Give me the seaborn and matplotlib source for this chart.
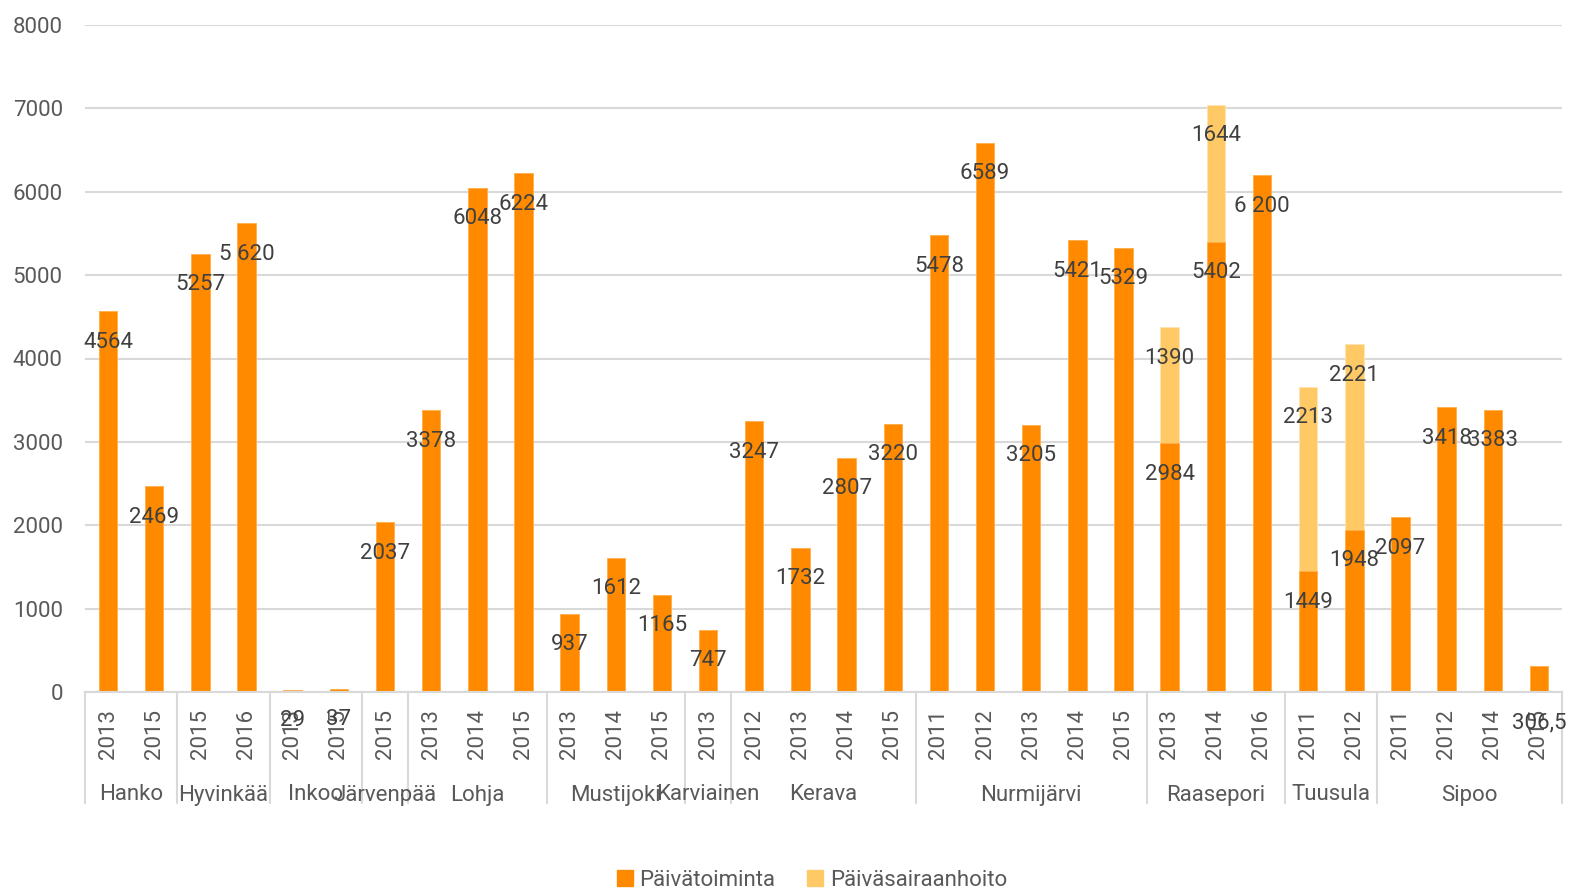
import matplotlib
matplotlib.use("Agg")
import matplotlib.pyplot as plt
import matplotlib.transforms as mtransforms
from matplotlib.patches import Patch
import seaborn as sns
import pandas as pd
import numpy as np

# ---- data ----
groups = ["Hanko", "Hyvinkää", "Inkoo", "Järvenpää", "Lohja", "Mustijoki",
          "Karviainen", "Kerava", "Nurmijärvi", "Raasepori", "Tuusula", "Sipoo"]
group_sizes = [2, 2, 2, 1, 3, 3, 1, 4, 5, 3, 2, 4]
years = ["2013", "2015", "2015", "2016", "2013", "2015", "2015",
         "2013", "2014", "2015", "2013", "2014", "2015", "2013",
         "2012", "2013", "2014", "2015",
         "2011", "2012", "2013", "2014", "2015",
         "2013", "2014", "2016", "2011", "2012",
         "2011", "2012", "2014", "2015"]
paivatoiminta = [4564, 2469, 5257, 5620, 29, 37, 2037,
                 3378, 6048, 6224, 937, 1612, 1165, 747,
                 3247, 1732, 2807, 3220,
                 5478, 6589, 3205, 5421, 5329,
                 2984, 5402, 6200, 1449, 1948,
                 2097, 3418, 3383, 306.5]
paivasairaanhoito = [0, 0, 0, 0, 0, 0, 0,
                     0, 0, 0, 0, 0, 0, 0,
                     0, 0, 0, 0,
                     0, 0, 0, 0, 0,
                     1390, 1644, 0, 2213, 2221,
                     0, 0, 0, 0]
labels_main = ["4564", "2469", "5257", "5 620", "29", "37", "2037",
               "3378", "6048", "6224", "937", "1612", "1165", "747",
               "3247", "1732", "2807", "3220",
               "5478", "6589", "3205", "5421", "5329",
               "2984", "5402", "6 200", "1449", "1948",
               "2097", "3418", "3383", "306,5"]

ORANGE = "#FF8A00"
LIGHT = "#FFCA66"
TXT = "#404040"
TICK = "#595959"
GRID = "#D9D9D9"

sns.set_theme(style="white")
fam = ["Roboto", "DejaVu Sans"]
plt.rcParams["font.family"] = fam
FS = 16

keys = [f"{i:02d}" for i in range(len(years))]
df = pd.DataFrame({"key": keys, "main": paivatoiminta,
                   "extra": paivasairaanhoito})
df["total"] = df["main"] + df["extra"]

fig = plt.figure(figsize=(15.76, 8.92), dpi=100)
ax = fig.add_axes([85/1576, 1-692/892, (1562-85)/1576, (692-25)/892])

sns.barplot(data=df, x="key", y="total", color=LIGHT, width=0.4,
            saturation=1, ax=ax, edgecolor="#FFE3B0", linewidth=0.6)
sns.barplot(data=df, x="key", y="main", color=ORANGE, width=0.4,
            saturation=1, ax=ax, edgecolor="#FFB050", linewidth=0.6)

n = len(years)
ax.set_xlim(-0.5, n - 0.5)
ax.set_ylim(0, 8000)
ax.set_yticks(np.arange(0, 8001, 1000))
ax.set_yticklabels([str(v) for v in range(0, 8001, 1000)],
                   fontsize=FS, color=TICK)
ax.yaxis.grid(True, color=GRID, linewidth=1.5)
ax.set_axisbelow(True)
ax.tick_params(axis="y", length=0, pad=16)
ax.tick_params(axis="x", length=0, pad=12)
ax.set_xticks(range(n))
ax.set_xticklabels(years, rotation=90, fontsize=FS, color=TICK)
ax.set_xlabel("")
ax.set_ylabel("")
for s in ["left", "right", "top"]:
    ax.spines[s].set_visible(False)
ax.spines["bottom"].set_color(GRID)
ax.spines["bottom"].set_linewidth(1.5)

# data labels (inside end)
px = 72 / 100.0
for i in range(n):
    m = paivatoiminta[i]
    off = -31 if i != n - 1 else -56
    ax.annotate(labels_main[i], (i, m), xytext=(0, off * px),
                textcoords="offset points", ha="center", va="center",
                fontsize=FS, color=TXT, annotation_clip=False)
    e = paivasairaanhoito[i]
    if e:
        ax.annotate(str(e), (i, m + e), xytext=(0, -31 * px),
                    textcoords="offset points", ha="center", va="center",
                    fontsize=FS, color=TXT, annotation_clip=False)

# group labels and separators
trans = mtransforms.blended_transform_factory(ax.transData, ax.transAxes)
y_bot = -(803 - 692) / (692 - 25)
y_lab = -(795 - 692) / (692 - 25)
start = 0
bounds = [-0.5]
for g, sz in zip(groups, group_sizes):
    center = start + (sz - 1) / 2
    ax.text(center, y_lab, g, transform=trans, ha="center", va="center",
            fontsize=FS, color=TICK, clip_on=False)
    start += sz
    bounds.append(start - 0.5)
for b in bounds:
    ax.plot([b, b], [0, y_bot], transform=trans, color=GRID, lw=1.5,
            clip_on=False)

# legend
handles = [Patch(color=ORANGE, label="Päivätoiminta"),
           Patch(color=LIGHT, label="Päiväsairaanhoito")]
fig.legend(handles=handles, loc="center", bbox_to_anchor=(812/1576, 1-880/892),
           ncol=2, frameon=False, fontsize=FS, handlelength=0.7,
           handleheight=0.7, handletextpad=0.3, columnspacing=1.45,
           labelcolor=TICK)

fig.savefig("out.png", dpi=100)
